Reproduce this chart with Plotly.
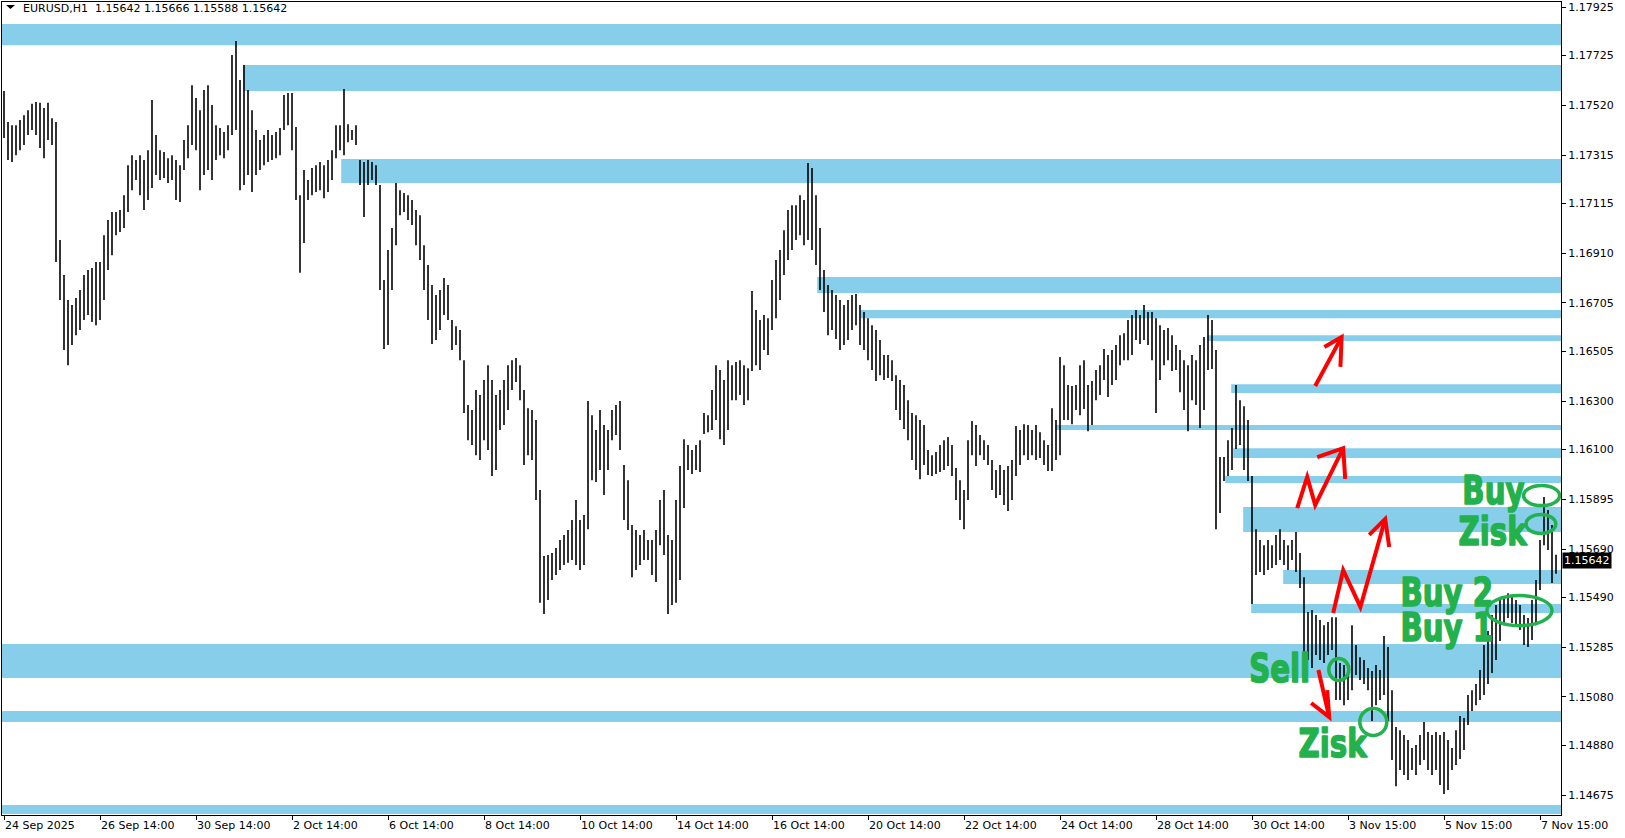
import plotly.graph_objects as go

# EURUSD H1 chart, one vertical bar (low..high) per two hours
bar_high = [
    # 24 Sep
    1.17579, 1.17451, 1.17438, 1.17438, 1.17459, 1.17479, 1.17500, 1.17526, 1.17534, 1.17530, 1.17509, 1.17530,
    1.17467, 1.17451, 1.16964, 1.16820, 1.16717, 1.16696, 1.16725, 1.16758, 1.16820, 1.16841, 1.16849, 1.16874,
    # 26 Sep 14:00
    1.16874, 1.16984, 1.17047, 1.17080, 1.17080, 1.17088, 1.17149, 1.17273, 1.17314, 1.17294, 1.17314, 1.17294,
    1.17335, 1.17542, 1.17397, 1.17335, 1.17327, 1.17302, 1.17314, 1.17294, 1.17273, 1.17377, 1.17438, 1.17603,
    # 30 Sep 14:00
    1.17550, 1.17500, 1.17583, 1.17603, 1.17521, 1.17438, 1.17426, 1.17410, 1.17438, 1.17727, 1.17785, 1.17624,
    1.17686, 1.17583, 1.17500, 1.17418, 1.17377, 1.17397, 1.17418, 1.17397, 1.17410, 1.17426, 1.17562, 1.17571,
    # 2 Oct 14:00
    1.17571, 1.17430, 1.17149, 1.17253, 1.17212, 1.17261, 1.17273, 1.17286, 1.17273, 1.17294, 1.17335, 1.17438,
    1.17438, 1.17587, 1.17442, 1.17418, 1.17438, 1.17294, 1.17286, 1.17294, 1.17286, 1.17273, 1.17191, 1.16799,
    # 6 Oct 14:00
    1.16923, 1.17014, 1.17200, 1.17170, 1.17158, 1.17149, 1.17129, 1.17088, 1.17067, 1.16943, 1.16861, 1.16779,
    1.16738, 1.16758, 1.16808, 1.16779, 1.16634, 1.16609, 1.16593, 1.16469, 1.16284, 1.16263, 1.16346, 1.16325,
    # 8 Oct 14:00
    1.16387, 1.16448, 1.16387, 1.16325, 1.16346, 1.16387, 1.16448, 1.16469, 1.16478, 1.16448, 1.16346, 1.16271,
    1.16263, 1.16222, 1.15933, 1.15661, 1.15665, 1.15674, 1.15694, 1.15727, 1.15748, 1.15768, 1.15810, 1.15892,
    # 10 Oct 14:00
    1.15810, 1.15830, 1.16300, 1.16242, 1.16181, 1.16263, 1.16201, 1.16181, 1.16263, 1.16284, 1.16300, 1.16036,
    1.15974, 1.15789, 1.15768, 1.15748, 1.15768, 1.15727, 1.15727, 1.15768, 1.15892, 1.15933, 1.15748, 1.15727,
    # 14 Oct 14:00
    1.15892, 1.16032, 1.16143, 1.16119, 1.16098, 1.16119, 1.16139, 1.16251, 1.16242, 1.16346, 1.16448, 1.16428,
    1.16387, 1.16469, 1.16448, 1.16461, 1.16469, 1.16448, 1.16436, 1.16754, 1.16676, 1.16634, 1.16655, 1.16642,
    # 16 Oct 14:00
    1.16799, 1.16882, 1.16923, 1.17005, 1.17088, 1.17108, 1.17108, 1.17149, 1.17129, 1.17282, 1.17261, 1.17149,
    1.17014, 1.16841, 1.16779, 1.16758, 1.16738, 1.16717, 1.16696, 1.16717, 1.16738, 1.16742, 1.16696, 1.16667,
    # 20 Oct 14:00
    1.16642, 1.16613, 1.16593, 1.16552, 1.16490, 1.16490, 1.16469, 1.16407, 1.16387, 1.16366, 1.16304, 1.16251,
    1.16242, 1.16222, 1.16201, 1.16098, 1.16077, 1.16090, 1.16119, 1.16139, 1.16152, 1.16119, 1.16024, 1.15974,
    # 22 Oct 14:00
    1.15933, 1.16139, 1.16218, 1.16201, 1.16160, 1.16139, 1.16119, 1.16057, 1.16016, 1.16036, 1.16016, 1.16032,
    1.16057, 1.16197, 1.16181, 1.16205, 1.16201, 1.16181, 1.16201, 1.16172, 1.16139, 1.16119, 1.16271, 1.16222,
    # 24 Oct 14:00
    1.16482, 1.16448, 1.16366, 1.16362, 1.16366, 1.16448, 1.16469, 1.16366, 1.16383, 1.16428, 1.16448, 1.16515,
    1.16490, 1.16511, 1.16531, 1.16572, 1.16580, 1.16634, 1.16655, 1.16676, 1.16655, 1.16696, 1.16667, 1.16667,
    # 28 Oct 14:00
    1.16642, 1.16613, 1.16593, 1.16601, 1.16572, 1.16531, 1.16511, 1.16469, 1.16448, 1.16490, 1.16469, 1.16531,
    1.16564, 1.16655, 1.16634, 1.16511, 1.16069, 1.16069, 1.16139, 1.16189, 1.16366, 1.16304, 1.16279, 1.16222,
    # 30 Oct 14:00
    1.15991, 1.15772, 1.15727, 1.15706, 1.15727, 1.15706, 1.15748, 1.15772, 1.15727, 1.15706, 1.15727, 1.15760,
    1.15674, 1.15574, 1.15430, 1.15438, 1.15418, 1.15397, 1.15376, 1.15389, 1.15409, 1.15409, 1.15220, 1.15212,
    # 3 Nov 15:00
    1.15212, 1.15376, 1.15294, 1.15244, 1.15232, 1.15199, 1.15187, 1.15212, 1.15191, 1.15331, 1.15286, 1.15108,
    1.14956, 1.14943, 1.14923, 1.14902, 1.14869, 1.14882, 1.14923, 1.14977, 1.14935, 1.14923, 1.14935, 1.14923,
    # 5 Nov 15:00
    1.14935, 1.14902, 1.14869, 1.14943, 1.15001, 1.14993, 1.15088, 1.15108, 1.15133, 1.15191, 1.15294, 1.15352,
    1.15418, 1.15459, 1.15484, 1.15496, 1.15508, 1.15500, 1.15480, 1.15459, 1.15418, 1.15405, 1.15480, 1.15562,
    # 7 Nov 15:00
    1.15727, 1.15905, 1.15851, 1.15789, 1.15666,
]
bar_low = [
    1.17385, 1.17294, 1.17286, 1.17314, 1.17335, 1.17356, 1.17397, 1.17418, 1.17397, 1.17344, 1.17302, 1.17377,
    1.17356, 1.16874, 1.16717, 1.16511, 1.16448, 1.16531, 1.16572, 1.16593, 1.16634, 1.16655, 1.16626, 1.16613,
    1.16634, 1.16717, 1.16841, 1.16902, 1.16984, 1.16997, 1.17014, 1.17080, 1.17170, 1.17212, 1.17149, 1.17088,
    1.17129, 1.17179, 1.17232, 1.17212, 1.17220, 1.17200, 1.17212, 1.17129, 1.17121, 1.17253, 1.17302, 1.17356,
    1.17335, 1.17170, 1.17232, 1.17253, 1.17212, 1.17294, 1.17314, 1.17302, 1.17335, 1.17397, 1.17418, 1.17170,
    1.17191, 1.17232, 1.17162, 1.17232, 1.17253, 1.17273, 1.17286, 1.17294, 1.17302, 1.17314, 1.17418, 1.17438,
    1.17335, 1.17129, 1.16829, 1.16952, 1.17129, 1.17149, 1.17162, 1.17170, 1.17137, 1.17162, 1.17212, 1.17302,
    1.17335, 1.17314, 1.17368, 1.17377, 1.17356, 1.17191, 1.17059, 1.17191, 1.17212, 1.17191, 1.16758, 1.16515,
    1.16531, 1.16758, 1.16943, 1.17067, 1.17080, 1.17047, 1.17026, 1.16943, 1.16882, 1.16758, 1.16634, 1.16535,
    1.16552, 1.16593, 1.16655, 1.16634, 1.16511, 1.16531, 1.16469, 1.16251, 1.16139, 1.16119, 1.16077, 1.16057,
    1.16139, 1.16098, 1.15991, 1.16016, 1.16181, 1.16201, 1.16263, 1.16346, 1.16379, 1.16304, 1.16036, 1.16077,
    1.16057, 1.15892, 1.15468, 1.15422, 1.15480, 1.15562, 1.15583, 1.15603, 1.15624, 1.15633, 1.15645, 1.15624,
    1.15603, 1.15624, 1.15772, 1.15974, 1.15966, 1.16016, 1.15913, 1.16016, 1.16139, 1.16160, 1.16098, 1.15810,
    1.15768, 1.15574, 1.15603, 1.15624, 1.15645, 1.15645, 1.15583, 1.15554, 1.15706, 1.15665, 1.15422, 1.15459,
    1.15468, 1.15562, 1.15859, 1.16016, 1.15999, 1.16016, 1.16008, 1.16164, 1.16172, 1.16181, 1.16222, 1.16143,
    1.16119, 1.16181, 1.16304, 1.16304, 1.16325, 1.16284, 1.16304, 1.16424, 1.16448, 1.16428, 1.16511, 1.16490,
    1.16593, 1.16642, 1.16717, 1.16820, 1.16882, 1.16923, 1.16964, 1.16984, 1.16943, 1.16964, 1.16923, 1.16861,
    1.16758, 1.16667, 1.16572, 1.16593, 1.16556, 1.16511, 1.16531, 1.16552, 1.16593, 1.16613, 1.16531, 1.16511,
    1.16469, 1.16428, 1.16383, 1.16407, 1.16387, 1.16395, 1.16383, 1.16263, 1.16222, 1.16185, 1.16139, 1.16057,
    1.16016, 1.15978, 1.16036, 1.15995, 1.15991, 1.15999, 1.16008, 1.16016, 1.16032, 1.15991, 1.15892, 1.15810,
    1.15772, 1.15892, 1.16077, 1.16032, 1.16077, 1.16057, 1.16036, 1.15933, 1.15900, 1.15913, 1.15871, 1.15847,
    1.15892, 1.15991, 1.16036, 1.16077, 1.16057, 1.16077, 1.16057, 1.16065, 1.16036, 1.16012, 1.16012, 1.16057,
    1.16077, 1.16222, 1.16222, 1.16205, 1.16263, 1.16242, 1.16267, 1.16176, 1.16201, 1.16304, 1.16325, 1.16387,
    1.16317, 1.16366, 1.16387, 1.16448, 1.16469, 1.16469, 1.16490, 1.16552, 1.16535, 1.16552, 1.16531, 1.16469,
    1.16251, 1.16387, 1.16448, 1.16469, 1.16424, 1.16428, 1.16337, 1.16263, 1.16176, 1.16304, 1.16284, 1.16189,
    1.16263, 1.16428, 1.16432, 1.15772, 1.15839, 1.15970, 1.15991, 1.16016, 1.16102, 1.16119, 1.16016, 1.15970,
    1.15463, 1.15583, 1.15595, 1.15583, 1.15603, 1.15612, 1.15624, 1.15645, 1.15624, 1.15603, 1.15645, 1.15595,
    1.15529, 1.15220, 1.15232, 1.15199, 1.15253, 1.15232, 1.15220, 1.15253, 1.15273, 1.15067, 1.15067, 1.15046,
    1.15067, 1.15108, 1.15170, 1.15150, 1.15133, 1.15108, 1.14981, 1.15046, 1.15067, 1.15088, 1.14981, 1.14820,
    1.14712, 1.14779, 1.14758, 1.14737, 1.14779, 1.14758, 1.14799, 1.14820, 1.14779, 1.14758, 1.14779, 1.14717,
    1.14680, 1.14696, 1.14779, 1.14799, 1.14824, 1.14861, 1.14964, 1.15022, 1.15046, 1.15067, 1.15088, 1.15133,
    1.15179, 1.15232, 1.15311, 1.15376, 1.15405, 1.15385, 1.15376, 1.15356, 1.15294, 1.15286, 1.15315, 1.15376,
    1.15521, 1.15706, 1.15686, 1.15550, 1.15588,
]

symbol = "EURUSD,H1"
last_open, last_high, last_low, last_close = 1.15642, 1.15666, 1.15588, 1.15642

time_labels = [
    "24 Sep 2025", "26 Sep 14:00", "30 Sep 14:00", "2 Oct 14:00", "6 Oct 14:00", "8 Oct 14:00",
    "10 Oct 14:00", "14 Oct 14:00", "16 Oct 14:00", "20 Oct 14:00", "22 Oct 14:00", "24 Oct 14:00",
    "28 Oct 14:00", "30 Oct 14:00", "3 Nov 15:00", "5 Nov 15:00", "7 Nov 15:00",
]
bars_per_label = 24

price_ticks = [
    1.17925, 1.17725, 1.17520, 1.17315, 1.17115, 1.16910, 1.16705, 1.16505, 1.16300,
    1.16100, 1.15895, 1.15690, 1.15490, 1.15285, 1.15080, 1.14880, 1.14675,
]

# supply / demand zones: (top, bottom, first bar); None = from chart start
zone_top = [1.17855, 1.17686, 1.17298, 1.16812, 1.16676, 1.16572, 1.16370, 1.16201,
            1.16106, 1.15991, 1.15863, 1.15603, 1.15463, 1.15298, 1.15022, 1.14634]
zone_bottom = [1.17768, 1.17579, 1.17200, 1.16746, 1.16642, 1.16548, 1.16333, 1.16181,
               1.16065, 1.15962, 1.15760, 1.15546, 1.15426, 1.15158, 1.14977, 1.14597]
zone_from = [None, 59.8, 84.3, 203.3, 214.1, 300.8, 306.8, 262.8,
             307.3, 305.3, 309.8, 319.8, 311.8, None, None, None]

X_RANGE = [-0.5, 389.25]
Y_RANGE = [1.14593, 1.17946]
ZONE_COLOR = "#87CEEB"
GREEN = "#22B14C"
RED = "#FF0000"
AXIS_FONT = {"family": "DejaVu Sans", "size": 11, "color": "black"}

fig = go.Figure()

xs, ys = [], []
for i, (hi, lo) in enumerate(zip(bar_high, bar_low)):
    xs += [i, i, None]
    ys += [lo, hi, None]
fig.add_trace(
    go.Scatter(x=xs, y=ys, mode="lines", line={"color": "black", "width": 1.6},
               hoverinfo="skip", showlegend=False)
)

for top, bottom, start in zip(zone_top, zone_bottom, zone_from):
    fig.add_shape(
        type="rect", xref="x", yref="y",
        x0=X_RANGE[0] if start is None else start, x1=X_RANGE[1],
        y0=bottom, y1=top,
        fillcolor=ZONE_COLOR, line={"width": 0}, layer="below",
    )

# hand-drawn trade notes
arrows = [
    [(327.8, 1.16362), (334.4, 1.16564)],
    [(330.1, 1.16523), (334.4, 1.16564), (334.1, 1.16441)],
    [(323.3, 1.15859), (325.8, 1.15987), (327.8, 1.15871), (334.8, 1.16106)],
    [(328.3, 1.16069), (334.8, 1.16106), (335.3, 1.15979)],
    [(332.3, 1.15426), (334.8, 1.15603), (339.1, 1.15451), (345.3, 1.15814)],
    [(341.3, 1.15748), (345.3, 1.15814), (346.3, 1.15698)],
    [(328.6, 1.15191), (331.3, 1.14997)],
    [(326.8, 1.15055), (331.3, 1.14997), (330.8, 1.15108)],
]
for pts in arrows:
    path = "M " + " L ".join(f"{px},{py}" for px, py in pts)
    fig.add_shape(type="path", xref="x", yref="y", path=path,
                  line={"color": RED, "width": 4})

ellipses = [
    (379.9, 388.9, 1.15869, 1.15952),
    (380.5, 387.95, 1.15754, 1.15832),
    (370.7, 387.0, 1.15374, 1.15498),
    (331.2, 336.2, 1.15148, 1.15238),
    (338.95, 345.7, 1.14921, 1.15032),
]
for x0, x1, y0, y1 in ellipses:
    fig.add_shape(type="circle", xref="x", yref="y", x0=x0, x1=x1, y0=y0, y1=y1,
                  line={"color": GREEN, "width": 3.5})

notes = [
    ("Buy", 372.3, 1.15933),
    ("Zisk", 372.2, 1.15764),
    ("Buy 2", 360.8, 1.15510),
    ("Buy 1", 360.7, 1.15366),
    ("Sell", 318.8, 1.15197),
    ("Zisk", 332.3, 1.14888),
]
for text, nx, ny in notes:
    fig.add_annotation(
        x=nx, y=ny, xref="x", yref="y", text=text, showarrow=False,
        xanchor="center", yanchor="middle",
        font={"family": "DejaVu Sans", "size": 39, "color": GREEN, "weight": "bold"},
    )

# header and last price tag
fig.add_shape(type="path", xref="paper", yref="paper",
              path="M 0.00257,0.99631 L 0.00834,0.99631 L 0.00545,0.99139 Z",
              fillcolor="black", line={"width": 0})
fig.add_annotation(
    x=0.0122, y=1, xref="paper", yref="paper", xanchor="left", yanchor="top", yshift=2,
    text=f"{symbol}  {last_open:.5f} {last_high:.5f} {last_low:.5f} {last_close:.5f}",
    showarrow=False, font=AXIS_FONT,
)
fig.add_annotation(
    x=1, y=last_close, xref="paper", yref="y", xanchor="left", yanchor="middle", xshift=1,
    text=f"{last_close:.5f}", showarrow=False, bgcolor="black", borderpad=1,
    font={"family": "DejaVu Sans", "size": 11, "color": "white"},
)

fig.update_layout(
    width=1625, height=838,
    margin={"l": 2, "r": 64, "t": 2, "b": 23},
    paper_bgcolor="white", plot_bgcolor="white",
    showlegend=False,
)
fig.update_xaxes(
    range=X_RANGE, showgrid=False, zeroline=False,
    showline=True, linecolor="black", linewidth=1, mirror=True,
    ticks="outside", ticklen=4, tickcolor="black",
    tickvals=[k * bars_per_label for k in range(len(time_labels))], ticktext=time_labels,
    ticklabelposition="outside right", tickfont=AXIS_FONT,
)
fig.update_yaxes(
    range=Y_RANGE, side="right", showgrid=False, zeroline=False,
    showline=True, linecolor="black", linewidth=1, mirror=True,
    ticks="outside", ticklen=4, tickcolor="black",
    tickvals=price_ticks, tickformat=".5f", tickfont=AXIS_FONT,
)

# drop the page margin and make the big hand-written labels narrow and heavy
post_js = """
document.body.style.margin = '0';
var gd = document.getElementById('{plot_id}');
gd.querySelectorAll('text.annotation-text').forEach(function (t) {
    if (parseFloat(t.style.fontSize) > 30) {
        t.style.transformBox = 'fill-box';
        t.style.transformOrigin = 'center';
        t.style.transform = 'scaleX(0.75)';
        t.style.stroke = '%s';
        t.style.strokeWidth = '1.6px';
        t.style.strokeLinejoin = 'round';
    }
});
""" % GREEN
fig.write_html("out.html", post_script=post_js, config={"displayModeBar": False})
